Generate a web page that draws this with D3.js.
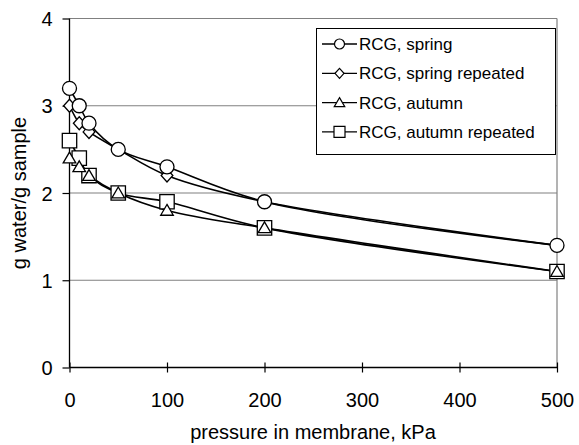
<!DOCTYPE html>
<html><head><meta charset="utf-8">
<script src="https://cdn.jsdelivr.net/npm/d3@7"></script>
<style>body{margin:0;background:#fff}svg{display:block}text{font-family:"Liberation Sans",Arial,sans-serif}</style>
</head><body>
<script>
const pressures = [0, 10, 20, 50, 100, 200, 500];
const springVals = [3.2, 3.0, 2.8, 2.5, 2.3, 1.9, 1.4];
const springRepVals = [3.0, 2.8, 2.7, 2.5, 2.2, 1.9, 1.4];
const autumnVals = [2.4, 2.3, 2.2, 2.0, 1.8, 1.6, 1.1];
const autumnRepVals = [2.6, 2.4, 2.2, 2.0, 1.9, 1.6, 1.1];
const seriesNames = ["RCG, spring", "RCG, spring repeated", "RCG, autumn", "RCG, autumn repeated"];
const xTicks = [0, 100, 200, 300, 400, 500];
const yTicks = [0, 1, 2, 3, 4];

const W = 579, H = 445;
const svg = d3.select("body").append("svg").attr("width", W).attr("height", H);
const x = d3.scaleLinear().domain([0, 500]).range([69.5, 557]);
const y = d3.scaleLinear().domain([0, 4]).range([367.5, 18.5]);
const FONT = '"Liberation Sans",Arial,sans-serif';

// custom symbols: size = half-extent in px
const symCircle = { draw(c, r) { c.moveTo(r, 0); c.arc(0, 0, r, 0, 2 * Math.PI); } };
const symDiamond = { draw(c, r) { c.moveTo(0, -r); c.lineTo(r * 0.9, 0); c.lineTo(0, r); c.lineTo(-r * 0.9, 0); c.closePath(); } };
const symTriangle = { draw(c, r) { c.moveTo(0, -r); c.lineTo(r * 1.05, r * 0.8); c.lineTo(-r * 1.05, r * 0.8); c.closePath(); } };
const symSquare = { draw(c, r) { c.rect(-r, -r, 2 * r, 2 * r); } };

// gridlines
svg.append("g").selectAll("line").data(yTicks.filter(d => d > 0)).join("line")
  .attr("x1", x(0)).attr("x2", x(500)).attr("y1", d => y(d)).attr("y2", d => y(d))
  .attr("stroke", "#808080").attr("stroke-width", 1.2);
svg.append("line").attr("x1", x(500)).attr("x2", x(500)).attr("y1", y(4)).attr("y2", y(0))
  .attr("stroke", "#808080").attr("stroke-width", 1.2);

// axes
const yAxis = svg.append("g").attr("transform", `translate(${x(0)},0)`)
  .call(d3.axisLeft(y).tickValues(yTicks).tickSize(7).tickPadding(10).tickFormat(d3.format("d")));
const xAxis = svg.append("g").attr("transform", `translate(0,${y(0)})`)
  .call(d3.axisBottom(x).tickValues(xTicks).tickSize(5).tickPadding(20).tickFormat(d3.format("d")));
[yAxis, xAxis].forEach(g => {
  g.select(".domain").attr("stroke", "#000").attr("stroke-width", 1.3);
  g.selectAll(".tick line").attr("stroke", "#000").attr("stroke-width", 1.2);
  g.selectAll("text").attr("font-size", 20).attr("fill", "#000").attr("font-family", FONT);
});
yAxis.selectAll("text").attr("dy", "0.36em");
xAxis.selectAll(".tick line").attr("y1", -5);
xAxis.select(".domain").attr("d", `M${x(0)},0H${x(500)}`);
yAxis.select(".domain").attr("d", `M0,${y(0)}V${y(4)}`);

// labels
svg.append("text").attr("x", 313).attr("y", 439).attr("text-anchor", "middle")
  .attr("font-size", 20).text("pressure in membrane, kPa");
svg.append("text").attr("transform", `translate(26,${(y(0) + y(4)) / 2}) rotate(-90)`)
  .attr("text-anchor", "middle").attr("font-size", 20).text("g water/g sample");

const seriesData = [springVals, springRepVals, autumnVals, autumnRepVals];
const shapes = [symCircle, symDiamond, symTriangle, symSquare];
const sizes = [7, 6.5, 6, 7.2];

const line = d3.line().x((d, i) => x(pressures[i])).y(d => y(d)).curve(d3.curveCatmullRom.alpha(0.5));

const draw = [3, 2, 1, 0];
draw.forEach(s => {
  svg.append("path").datum(seriesData[s]).attr("d", line)
    .attr("fill", "none").attr("stroke", "#000").attr("stroke-width", 1.6);
});
draw.forEach(s => {
  svg.append("g").selectAll("path").data(seriesData[s]).join("path")
    .attr("transform", (d, i) => `translate(${x(pressures[i])},${y(d)})`)
    .attr("d", d3.symbol().type(shapes[s]).size(sizes[s]))
    .attr("fill", "#fff").attr("stroke", "#000").attr("stroke-width", 1.3);
});

// legend
const lg = svg.append("g");
lg.append("rect").attr("x", 316.5).attr("y", 28.5).attr("width", 239).attr("height", 126)
  .attr("fill", "#fff").attr("stroke", "#000").attr("stroke-width", 1);
seriesNames.forEach((name, i) => {
  const cy = 44 + i * 29.3;
  lg.append("line").attr("x1", 322).attr("x2", 357).attr("y1", cy).attr("y2", cy)
    .attr("stroke", "#000").attr("stroke-width", 1.3);
  lg.append("path").attr("transform", `translate(339.5,${cy})`)
    .attr("d", d3.symbol().type(shapes[i]).size([5, 5, 5, 5.5][i]))
    .attr("fill", "#fff").attr("stroke", "#000").attr("stroke-width", 1.2);
  lg.append("text").attr("x", 359).attr("y", cy + 6).attr("font-size", 17).text(name);
});
</script>
</body></html>
